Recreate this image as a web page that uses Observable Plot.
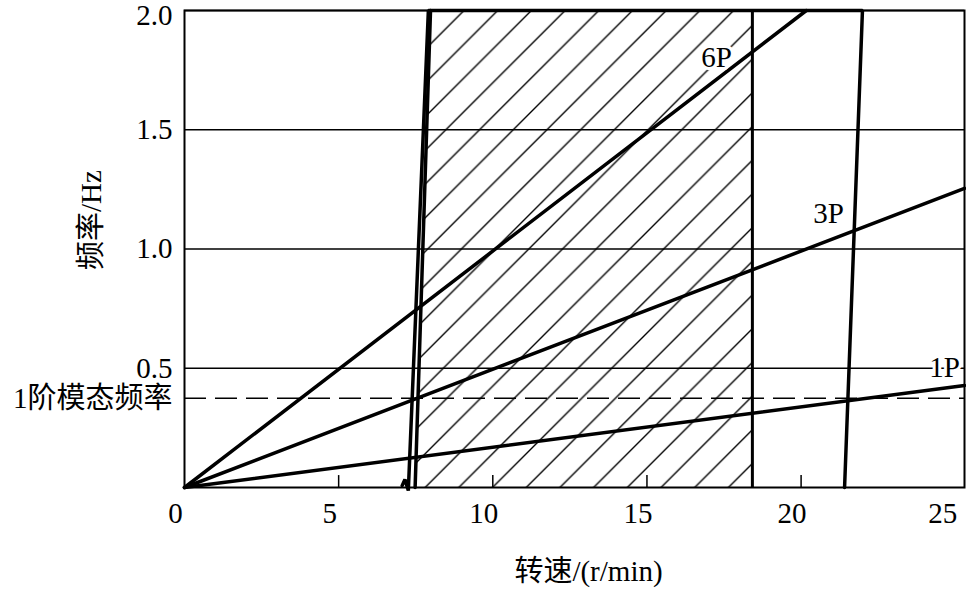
<!DOCTYPE html>
<html><head><meta charset="utf-8">
<script src="https://cdn.jsdelivr.net/npm/d3@7"></script>
<script src="https://cdn.jsdelivr.net/npm/@observablehq/plot@0.6"></script>
<style>
html,body{margin:0;padding:0;background:#fff;}
</style></head>
<body>
<svg width="0" height="0" style="position:absolute">
<defs>
<pattern id="hatch" patternUnits="userSpaceOnUse" width="33.7" height="33.7" patternTransform="translate(2.7,0)">
<path d="M-2,2 L2,-2 M0,33.7 L33.7,0 M31.7,35.7 L35.7,31.7" stroke="#000" stroke-width="1.4" fill="none"/>
</pattern>
</defs></svg>
<div id="chart"></div>
<script>
// Axis / tick data
const xDomain = [0, 25.3];
const yDomain = [0, 2.0];
const xTicks = [0, 5, 10, 15, 20];
const xLastTick = [25];
const xInnerTicks = [5, 10, 15, 20];
const yTicks = [0.5, 1.0, 1.5];
const yTopTick = [2.0];
const modeFreq = 0.374;
const modeLabel = "1阶模态频率";
const xTitle = "转速/(r/min)";
const yTitle = "频率/Hz";

// Excitation lines (rotor speed multiples)
const p1X = [0, 25.3], p1Y = [0, 0.428];
const p3X = [0, 25.3], p3Y = [0, 1.254];
const p6X = [0, 20.17], p6Y = [0, 2.0];

// Boundary of the operating band
const boundX = [7.06, 7.15, 7.26, 7.91, 21.99, 21.41];
const boundY = [0.008, 0.034, -0.013, 2.0, 2.0, 0];
const hatchEdgeX = [7.48, 7.98];
const hatchEdgeY = [0, 2.0];
const hatchRightX = 18.42;

// Series labels
const labelText = ["6P", "3P", "1P"];
const labelX = [17.26, 20.89, 24.65];
const labelY = [1.80, 1.149, 0.503];

const toRows = (xs, ys) => xs.map((x, i) => ({x, y: ys[i]}));
const hatchRows = hatchEdgeY.map((y, i) => ({y, x1: hatchEdgeX[i], x2: hatchRightX}));
const labelRows = labelText.map((t, i) => ({t, x: labelX[i], y: labelY[i]}));

const font = '"Liberation Serif", "Noto Sans CJK SC", serif';
const fs = 29;
const lw = 3.5;

const chart = Plot.plot({
  width: 966,
  height: 596,
  marginLeft: 184,
  marginRight: 2,
  marginTop: 10,
  marginBottom: 109,
  x: {domain: xDomain},
  y: {domain: yDomain},
  style: {fontFamily: font, fontSize: fs + "px", background: "white", color: "black", overflow: "visible"},
  marks: [
    Plot.areaX(hatchRows, {x1: "x1", x2: "x2", y: "y", fill: "url(#hatch)"}),
    Plot.ruleY([...yTicks, ...yTopTick], {stroke: "black", strokeWidth: 1.5}),
    Plot.ruleY([modeFreq], {stroke: "black", strokeWidth: 1.5, strokeDasharray: "22,9"}),
    Plot.ruleX(xInnerTicks, {y1: 0, y2: 0.05, stroke: "black", strokeWidth: 1.5}),
    Plot.frame({stroke: "black", strokeWidth: 2}),
    Plot.ruleX([hatchRightX], {y1: 0, y2: 2.0, stroke: "black", strokeWidth: 3}),
    Plot.line(toRows(hatchEdgeX, hatchEdgeY), {x: "x", y: "y", stroke: "black", strokeWidth: lw}),
    Plot.line(toRows(boundX, boundY), {x: "x", y: "y", stroke: "black", strokeWidth: lw, strokeLinejoin: "miter"}),
    Plot.line(toRows(p1X, p1Y), {x: "x", y: "y", stroke: "black", strokeWidth: lw}),
    Plot.line(toRows(p3X, p3Y), {x: "x", y: "y", stroke: "black", strokeWidth: lw}),
    Plot.line(toRows(p6X, p6Y), {x: "x", y: "y", stroke: "black", strokeWidth: lw}),
    Plot.axisX({ticks: xTicks, tickSize: 0, tickPadding: 15, fontSize: fs, label: null, dx: -9, tickFormat: d => String(d)}),
    Plot.axisX({ticks: xLastTick, tickSize: 0, tickPadding: 15, fontSize: fs, label: null, textAnchor: "end", dx: 2, tickFormat: d => String(d)}),
    Plot.axisY({ticks: [modeFreq, ...yTicks], tickSize: 0, tickPadding: 12, fontSize: fs, label: null,
      tickFormat: d => d === modeFreq ? modeLabel : d.toFixed(1)}),
    Plot.axisY({ticks: yTopTick, tickSize: 0, tickPadding: 12, fontSize: fs, label: null, dy: 5,
      tickFormat: d => d.toFixed(1)}),
    Plot.text([xTitle], {frameAnchor: "bottom", dx: 14, dy: 93, fontSize: fs, fill: "black"}),
    Plot.text([yTitle], {frameAnchor: "left", rotate: -90, dx: -93, dy: 21, fontSize: fs, fill: "black"}),
    Plot.text(labelRows, {x: "x", y: "y", text: "t", fontSize: fs, fill: "black", stroke: "white", strokeWidth: 6, paintOrder: "stroke"})
  ]
});
document.getElementById("chart").appendChild(chart);
</script>
</body></html>
